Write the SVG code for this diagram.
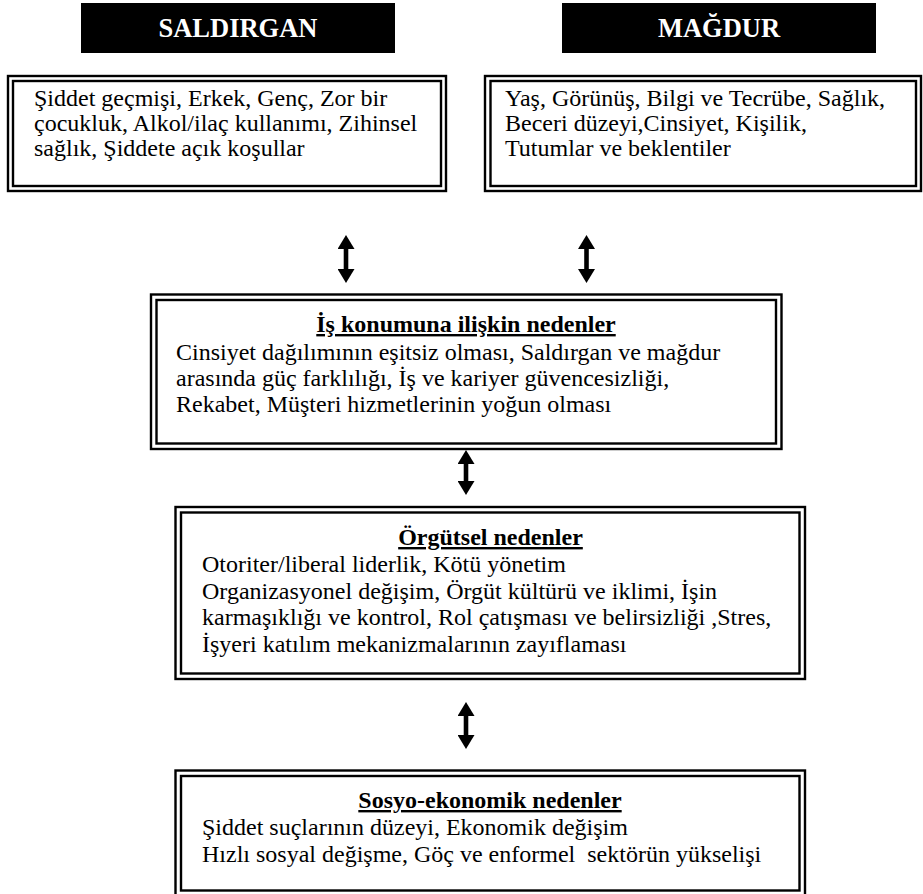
<svg xmlns="http://www.w3.org/2000/svg" width="923" height="894" viewBox="0 0 923 894">
<style>
.bg{fill:#ffffff}
.hdr{fill:#000000}
.hdrt{font-family:'Liberation Serif','Times New Roman',serif;font-size:26.5px;font-weight:bold;fill:#ffffff;text-anchor:middle}
.ob{fill:none;stroke:#000;stroke-width:2.4}
.ib{fill:none;stroke:#000;stroke-width:2.4}
.t{font-family:'Liberation Serif','Times New Roman',serif;font-size:24px;fill:#000}
.ttl{font-family:'Liberation Serif','Times New Roman',serif;font-size:24px;font-weight:bold;fill:#000;text-anchor:middle;text-decoration:underline}
.conn{stroke:#000;stroke-width:4.6;fill:none}
</style>
<defs>
<marker id="ah" viewBox="0 0 14 17" refX="0" refY="8.5" markerWidth="14" markerHeight="17" markerUnits="userSpaceOnUse" orient="auto-start-reverse">
<path d="M0,0 L14,8.5 L0,17 z" fill="#000"/>
</marker>
</defs>
<rect class="bg" x="0" y="0" width="923" height="894"/>

<g id="saldirgan-header">
<rect class="hdr" x="81" y="3" width="314" height="50"/>
<text class="hdrt" x="238" y="37">SALDIRGAN</text>
</g>
<g id="magdur-header">
<rect class="hdr" x="562" y="3" width="314" height="50"/>
<text class="hdrt" x="719" y="37">MAĞDUR</text>
</g>

<g id="saldirgan-box">
<rect class="ob" x="8" y="76" width="438" height="115"/>
<rect class="ib" x="13" y="81" width="428" height="105"/>
<text class="t" x="34" y="106">Şiddet geçmişi, Erkek, Genç, Zor bir</text>
<text class="t" x="34" y="131">çocukluk, Alkol/ilaç kullanımı, Zihinsel</text>
<text class="t" x="34" y="156">sağlık, Şiddete açık koşullar</text>
</g>

<g id="magdur-box">
<rect class="ob" x="485" y="76" width="436" height="115"/>
<rect class="ib" x="490.5" y="81" width="425.5" height="105"/>
<text class="t" x="505" y="106">Yaş, Görünüş, Bilgi ve Tecrübe, Sağlık,</text>
<text class="t" x="505" y="131">Beceri düzeyi,Cinsiyet, Kişilik,</text>
<text class="t" x="505" y="156">Tutumlar ve beklentiler</text>
</g>

<g id="is-konumu-box">
<rect class="ob" x="151" y="294.5" width="630.5" height="154.5"/>
<rect class="ib" x="156.5" y="300" width="619.5" height="143.5"/>
<text class="ttl" x="466" y="332">İş konumuna ilişkin nedenler</text>
<text class="t" x="176" y="360">Cinsiyet dağılımının eşitsiz olması, Saldırgan ve mağdur</text>
<text class="t" x="176" y="386">arasında güç farklılığı, İş ve kariyer güvencesizliği,</text>
<text class="t" x="176" y="412">Rekabet, Müşteri hizmetlerinin yoğun olması</text>
</g>

<g id="orgutsel-box">
<rect class="ob" x="175.5" y="507" width="629.5" height="172"/>
<rect class="ib" x="181" y="512.5" width="618.5" height="161"/>
<text class="ttl" x="490.5" y="545">Örgütsel nedenler</text>
<text class="t" x="202" y="572">Otoriter/liberal liderlik, Kötü yönetim</text>
<text class="t" x="202" y="598.5">Organizasyonel değişim, Örgüt kültürü ve iklimi, İşin</text>
<text class="t" x="202" y="625">karmaşıklığı ve kontrol, Rol çatışması ve belirsizliği ,Stres,</text>
<text class="t" x="202" y="651.5">İşyeri katılım mekanizmalarının zayıflaması</text>
</g>

<g id="sosyo-ekonomik-box">
<rect class="ob" x="175.5" y="770.5" width="629.5" height="126"/>
<rect class="ib" x="181" y="776" width="618.5" height="114.5"/>
<text class="ttl" x="490" y="808">Sosyo-ekonomik nedenler</text>
<text class="t" x="202" y="835">Şiddet suçlarının düzeyi, Ekonomik değişim</text>
<text class="t" x="202" y="861.5" xml:space="preserve">Hızlı sosyal değişme, Göç ve enformel  sektörün yükselişi</text>
</g>

<g id="connectors">
<line class="conn" x1="346" y1="249" x2="346" y2="269" marker-start="url(#ah)" marker-end="url(#ah)"/>
<line class="conn" x1="586.5" y1="249" x2="586.5" y2="269" marker-start="url(#ah)" marker-end="url(#ah)"/>
<line class="conn" x1="466" y1="464" x2="466" y2="481" marker-start="url(#ah)" marker-end="url(#ah)"/>
<line class="conn" x1="466" y1="716" x2="466" y2="735" marker-start="url(#ah)" marker-end="url(#ah)"/>
</g>
</svg>
